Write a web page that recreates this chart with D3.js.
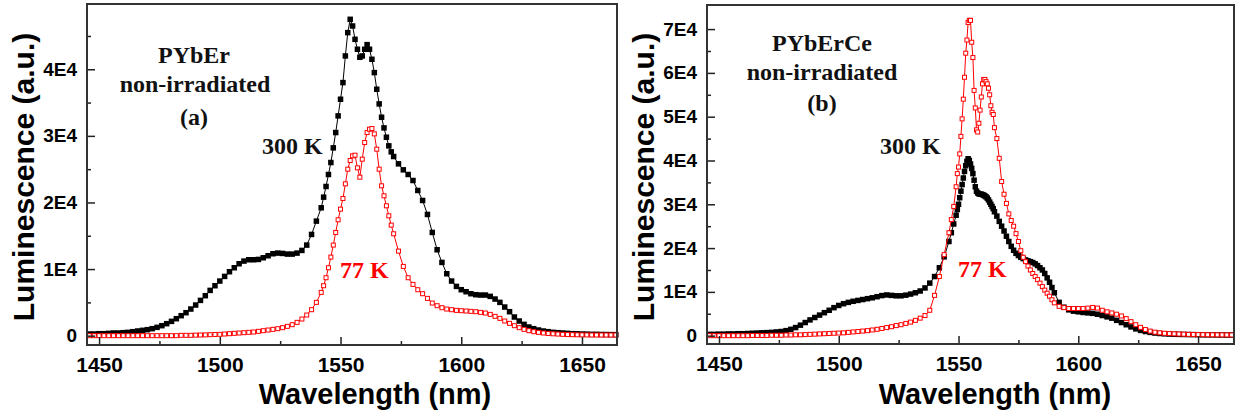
<!DOCTYPE html>
<html>
<head>
<meta charset="utf-8">
<script src="https://cdn.jsdelivr.net/npm/d3@7"></script>
<style>
html,body{margin:0;padding:0;background:#fff;}
svg{display:block;}
</style>
</head>
<body>
<svg id="chart" width="1236" height="416"></svg>
<script>
// ---------- Panel (a): PYbEr ----------
const waveA = [1446,1448,1450,1452,1454,1456,1458,1460,1462,1464,1466,1468,1470,1472,1474,1476,1478,1480,1482,1484,1486,1488,1490,1492,1494,1496,1498,1500,1502,1504,1506,1508,1510,1512,1514,1516,1518,1520,1522,1524,1526,1528,1530,1532,1534,1536,1538,1540,1542,
1543,1544,1545,1546,1547,1548,1549,1550,1551,1552,1553,1554,1555,1556,1557,1558,1559,1560,1561,1562,1563,1564,1565,1566,1567,1568,1569,1570,1571,1572,
1574,1576,1578,1580,1582,1584,1586,1588,1590,1592,1594,1596,1598,1600,1602,1604,1606,1608,1610,1612,1614,1616,1618,1620,1622,1624,1626,1628,1630,1632,1634,1636,1638,1640,1642,1644,1646,1648,1650,1652,1654,1656,1658,1660,1662,1664];
const lum300A = [250,250,300,300,350,400,400,450,500,600,700,800,900,1050,1250,1500,1800,2150,2550,3000,3450,4000,4600,5300,6000,6800,7500,8200,8900,9600,10200,10800,11200,11400,11400,11450,11700,12000,12300,12400,12350,12250,12250,12400,12800,13600,15200,17200,19200,
20800,22400,24200,26000,28200,30500,33000,35500,38000,42000,45500,47500,46500,44500,43000,41800,42000,43000,43700,43000,41500,39500,37000,34800,32800,31200,29800,28500,27600,26900,
25800,24900,24200,23300,21800,20300,18200,15500,12900,11000,9300,8200,7400,6900,6600,6300,6150,6100,6100,5900,5500,5000,4300,3600,2800,2200,1700,1300,1050,850,700,600,500,450,400,350,300,280,250,230,200,200,180,170,160,150];
const lum77A = [0,0,0,0,0,0,0,0,0,0,0,0,0,0,0,0,0,0,0,50,50,50,80,100,120,150,180,200,250,300,350,400,450,500,550,650,750,850,950,1050,1200,1400,1650,2000,2500,3100,3900,5000,6500,
7500,8700,10200,11800,13600,15500,17400,19000,20600,22800,25000,26300,27000,27100,25200,23800,26500,29000,30500,31000,31100,30300,28000,25000,22500,21000,19500,18000,16600,15300,
12700,10400,8700,7700,6900,6300,5600,4900,4500,4200,4000,3900,3800,3750,3700,3650,3600,3500,3400,3200,2900,2600,2200,1850,1500,1200,950,750,600,500,400,330,280,240,200,170,150,130,120,110,100,100,100,100,100,100];

// ---------- Panel (b): PYbErCe ----------
const waveB = [1446,1448,1450,1452,1454,1456,1458,1460,1462,1464,1466,1468,1470,1472,1474,1476,1478,1480,1482,1484,1486,1488,1490,1492,1494,1496,1498,1500,1502,1504,1506,1508,1510,1512,1514,1516,1518,1520,1522,1524,1526,1528,1530,1532,1534,1536,1538,1540,1542,1544,
1546,1547,1548,
1549,1549.5,1550,1550.5,1551,1551.5,1552,1552.5,1553,1553.5,1554,1554.5,1555,1555.5,1556,1556.5,1557,1557.5,1558,1558.5,1559,1559.5,1560,1560.5,1561,1561.5,1562,1562.5,1563,1563.5,1564,1564.5,1565,
1566,1567,1568,1569,1570,1571,1572,1573,1574,1575,1576,1577,1578,1579,1580,1581,1582,1583,1584,1585,1586,1587,1588,1589,1590,
1592,1594,1596,1598,1600,1602,1604,1606,1608,1610,1612,1614,1616,1618,1620,1622,1624,1626,1628,1630,1632,1634,1636,1638,1640,1642,1644,1646,1648,1650,1652,1654,1656,1658,1660,1662,1664];
const lum300B = [300,300,350,350,400,400,450,450,500,550,600,650,700,750,850,950,1150,1450,1850,2400,3000,3600,4150,4700,5250,5800,6400,6900,7300,7600,7850,8050,8250,8450,8650,8900,9150,9300,9200,9100,9100,9250,9500,9800,10200,10900,12000,13500,15500,18000,
21500,23500,25500,
27500,28800,30000,31500,33000,34500,36000,37500,38800,39800,40400,40000,39200,38200,37000,35500,34000,33000,32600,32400,32300,32300,32200,32100,31900,31700,31400,31000,30500,30000,29500,29000,28300,
27300,26100,25000,23900,22700,21500,20400,19500,18800,18300,17900,17600,17300,17100,16900,16700,16400,16000,15500,15000,14200,13200,12200,11000,9800,
7600,6500,5900,5600,5450,5300,5200,5100,4900,4600,4300,4000,3500,3000,2500,2000,1550,1200,950,750,600,500,420,370,330,300,280,260,240,220,200,190,180,170,160,150,150];
const lum77B = [0,0,0,0,0,0,0,0,0,50,50,50,50,100,100,100,150,150,200,200,250,300,350,400,450,500,550,600,650,750,850,950,1050,1150,1300,1450,1650,1850,2050,2300,2500,2800,3100,3500,4000,4600,5800,9200,13500,18500,
23500,26500,29500,
34000,37000,38500,41500,45500,49500,54000,59000,64500,67500,71500,72000,72000,67000,63500,56000,52000,47000,46500,48500,51500,54500,57500,58500,58500,58000,57500,56500,55000,52500,51000,50500,47500,
45000,40500,35200,32300,30200,27800,26300,25000,23300,21500,19400,17900,16900,15900,15000,14200,13500,12800,12000,11200,10400,9700,9000,8200,7500,
6700,6400,6200,6200,6200,6200,6300,6450,6300,5800,5450,5200,4900,4500,3900,3200,2500,1900,1400,1050,800,650,550,480,420,380,340,300,280,250,230,210,200,190,180,170,160];

// ---------- Ticks ----------
const xTicks = [1450,1500,1550,1600,1650];
const xMinorTicks = [1475,1525,1575,1625];
const yTicksA = [0,10000,20000,30000,40000];
const yTickLabelsA = ["0","1E4","2E4","3E4","4E4"];
const yMinorTicksA = [5000,15000,25000,35000,45000];
const yTicksB = [0,10000,20000,30000,40000,50000,60000,70000];
const yTickLabelsB = ["0","1E4","2E4","3E4","4E4","5E4","6E4","7E4"];
const yMinorTicksB = [5000,15000,25000,35000,45000,55000,65000];

const svg = d3.select("#chart");
const sansFont = "Arial, 'Liberation Sans', Helvetica, sans-serif";
const serifFont = "'Times New Roman', 'Liberation Serif', serif";
const RED = "#ff0000";

const panels = [
  {wave: waveA, hot: lum300A, cold: lum77A,
   box: {l: 87, r: 617, t: 4, b: 345},
   xDomain: [1445, 1664.5], yDomain: [-1400, 49800],
   yTicks: yTicksA, yLabels: yTickLabelsA, yMinor: yMinorTicksA,
   xLabelX: 375, yLabelX: 34,
   title: [{t: "PYbEr", x: 194, y: 63}, {t: "non-irradiated", x: 195, y: 92}, {t: "(a)", x: 194, y: 125}],
   hotLabel: {x: 262, y: 154}, coldLabel: {x: 340, y: 278}},
  {wave: waveB, hot: lum300B, cold: lum77B,
   box: {l: 707, r: 1234, t: 5, b: 344},
   xDomain: [1445, 1665], yDomain: [-1900, 75500],
   yTicks: yTicksB, yLabels: yTickLabelsB, yMinor: yMinorTicksB,
   xLabelX: 995, yLabelX: 654,
   title: [{t: "PYbErCe", x: 822, y: 51}, {t: "non-irradiated", x: 822, y: 80}, {t: "(b)", x: 822, y: 111}],
   hotLabel: {x: 880, y: 154}, coldLabel: {x: 958, y: 277}}
];

panels.forEach(p => {
  const x = d3.scaleLinear().domain(p.xDomain).range([p.box.l, p.box.r]);
  const y = d3.scaleLinear().domain(p.yDomain).range([p.box.b, p.box.t]);
  const g = svg.append("g");

  // series
  const hotData = p.wave.map((w, i) => [w, p.hot[i]]);
  const coldData = p.wave.map((w, i) => [w, p.cold[i]]);
  const line = d3.line().x(d => x(d[0])).y(d => y(d[1]));

  g.append("path").datum(hotData).attr("d", line)
    .attr("fill", "none").attr("stroke", "#000").attr("stroke-width", 1);
  g.append("g").selectAll("rect").data(hotData).join("rect")
    .attr("x", d => x(d[0]) - 2.75).attr("y", d => y(d[1]) - 2.75)
    .attr("width", 5.5).attr("height", 5.5).attr("fill", "#000");

  g.append("path").datum(coldData).attr("d", line)
    .attr("fill", "none").attr("stroke", RED).attr("stroke-width", 1);
  g.append("g").selectAll("rect").data(coldData).join("rect")
    .attr("x", d => x(d[0]) - 2).attr("y", d => y(d[1]) - 2)
    .attr("width", 4).attr("height", 4).attr("fill", "#fff")
    .attr("stroke", RED).attr("stroke-width", 1);

  // axes
  const xAxis = g.append("g").attr("transform", `translate(0,${p.box.b})`)
    .call(d3.axisBottom(x).tickValues(xTicks).tickFormat(d3.format("d"))
      .tickSizeInner(-8).tickSizeOuter(0).tickPadding(0));
  xAxis.select(".domain").remove();
  xAxis.selectAll("line").attr("stroke", "#222").attr("stroke-width", 1.5);
  xAxis.selectAll("text").attr("font-family", sansFont).attr("font-weight", "bold")
    .attr("font-size", 21).attr("fill", "#000").attr("y", 27).attr("dy", null);

  const xMinor = g.append("g").attr("transform", `translate(0,${p.box.b})`)
    .call(d3.axisBottom(x).tickValues(xMinorTicks).tickFormat("").tickSizeInner(-4).tickSizeOuter(0));
  xMinor.select(".domain").remove();
  xMinor.selectAll("line").attr("stroke", "#222").attr("stroke-width", 1.5);

  const yAxis = g.append("g").attr("transform", `translate(${p.box.l},0)`)
    .call(d3.axisLeft(y).tickValues(p.yTicks).tickFormat((d, i) => p.yLabels[i])
      .tickSizeInner(-8).tickSizeOuter(0).tickPadding(10));
  yAxis.select(".domain").remove();
  yAxis.selectAll("line").attr("stroke", "#222").attr("stroke-width", 1.5);
  yAxis.selectAll("text").attr("font-family", sansFont).attr("font-weight", "bold")
    .attr("font-size", 19).attr("fill", "#000");

  const yMinor = g.append("g").attr("transform", `translate(${p.box.l},0)`)
    .call(d3.axisLeft(y).tickValues(p.yMinor).tickFormat("").tickSizeInner(-4).tickSizeOuter(0));
  yMinor.select(".domain").remove();
  yMinor.selectAll("line").attr("stroke", "#222").attr("stroke-width", 1.5);

  // frame
  g.append("rect").attr("x", p.box.l).attr("y", p.box.t)
    .attr("width", p.box.r - p.box.l).attr("height", p.box.b - p.box.t)
    .attr("fill", "none").attr("stroke", "#333").attr("stroke-width", 2);

  // axis titles
  g.append("text").attr("x", p.xLabelX).attr("y", 404).attr("text-anchor", "middle")
    .attr("font-family", sansFont).attr("font-weight", "bold").attr("font-size", 29)
    .text("Wavelength (nm)");
  g.append("text").attr("transform", `translate(${p.yLabelX},177) rotate(-90)`)
    .attr("text-anchor", "middle")
    .attr("font-family", sansFont).attr("font-weight", "bold").attr("font-size", 30)
    .text("Luminescence (a.u.)");

  // annotations
  p.title.forEach(tt => {
    g.append("text").attr("x", tt.x).attr("y", tt.y).attr("text-anchor", "middle")
      .attr("font-family", serifFont).attr("font-weight", "bold").attr("font-size", 24)
      .attr("fill", "#111").text(tt.t);
  });
  g.append("text").attr("x", p.hotLabel.x).attr("y", p.hotLabel.y)
    .attr("font-family", serifFont).attr("font-weight", "bold").attr("font-size", 24)
    .attr("fill", "#111").text("300 K");
  g.append("text").attr("x", p.coldLabel.x).attr("y", p.coldLabel.y)
    .attr("font-family", serifFont).attr("font-weight", "bold").attr("font-size", 24)
    .attr("fill", RED).text("77 K");
});
</script>
</body>
</html>
